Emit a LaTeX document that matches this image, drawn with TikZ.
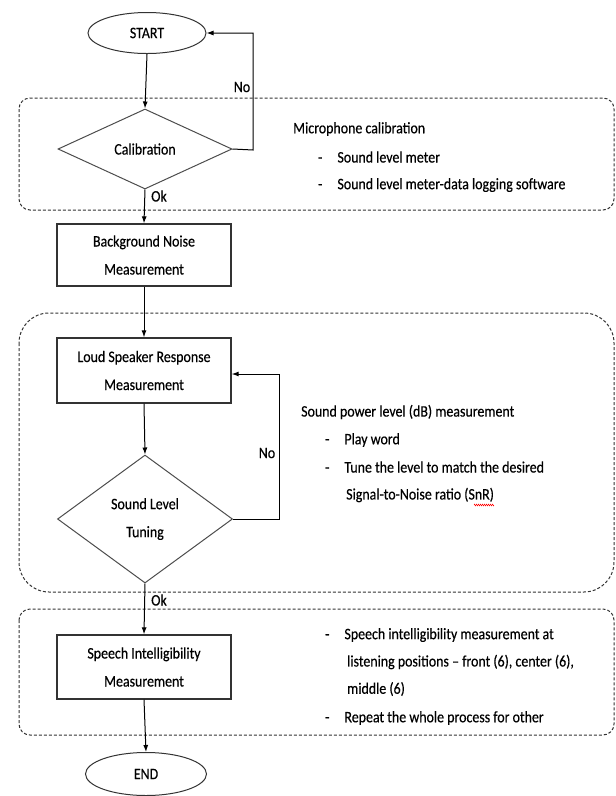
\documentclass[tikz,border=0pt]{standalone}
\usepackage{fontspec}
\setmainfont{Carlito}[FakeStretch=0.87,FakeBold=0.4]
\usetikzlibrary{shapes.geometric,arrows.meta,decorations.pathmorphing}
\begin{document}
\begin{tikzpicture}[x=1pt,y=-1pt,
  every node/.style={font=\fontsize{16}{28}\selectfont, text=black},
  flowbox/.style={draw=black!80, line width=1.3pt, minimum width=174pt, inner sep=0pt, align=center},
  decision/.style={draw=black!70, line width=1pt, diamond, inner sep=0pt, align=center},
  terminal/.style={draw=black!80, line width=1pt, ellipse, minimum width=118pt, minimum height=41pt, inner sep=0pt},
  group/.style={draw=black!80, line width=1pt, dash pattern=on 3pt off 2pt},
  link/.style={draw=black, line width=1pt, -{Latex[length=7pt,width=5pt]}},
  note/.style={anchor=west, align=left, inner sep=0pt}
]
\useasboundingbox (0,0) rectangle (616,796);
% dashed groups
\draw[group, rounded corners=11pt] (19,98) rectangle (614,210);
\draw[group, rounded corners=30pt] (19,313) rectangle (614,592);
\draw[group, rounded corners=11pt] (19,609) rectangle (614,735);

% nodes
\node[terminal] (start) at (147,33) {START};
\node[decision, minimum width=174pt, minimum height=80pt, aspect=2.175] (cal) at (145,149) {Calibration};
\node[flowbox, minimum height=62pt] (bn) at (144,255) {Background Noise\\Measurement};
\node[flowbox, minimum height=65pt] (ls) at (144,370.5) {Loud Speaker Response\\Measurement};
\node[decision, minimum width=175pt, minimum height=128pt, aspect=1.367] (tun) at (145,519) {Sound Level\\Tuning};
\node[flowbox, minimum height=64pt] (si) at (144,667) {Speech Intelligibility\\Measurement};
\node[terminal, minimum width=121pt, minimum height=43pt] (end) at (146,774) {END};

\coordinate (c1) at (253,150);
\coordinate (c2) at (279,519);

% connectors
\draw[link] (start.south) -- (cal.north);
\draw[link] (cal.east) -- (c1) |- (start.east);
\draw[link] (cal.south) -- (bn.north);
\draw[link] (bn.south) -- (ls.north);
\draw[link] (ls.south) -- (tun.north);
\draw[link] (tun.east) -- (c2) |- ([yshift=-3.5pt]ls.east);
\draw[link] (tun.south) -- (si.north);
\draw[link] (si.south) -- (end.north);

% labels
\node (no1) at (242,87) {No};
\node (ok1) at (159,196) {Ok};
\node (no2) at (267,453) {No};
\node (ok2) at (159,600) {Ok};

% notes
\node[note] (n1) at (293,129) {Microphone calibration};
\node[note] (n2) at (318,157) {-\hspace{15pt}Sound level meter};
\node[note] (n3) at (318,185) {-\hspace{15pt}Sound level meter-data logging software};

\node[note] (p1) at (301,412) {Sound power level (dB) measurement};
\node[note] (p2) at (325,440) {-\hspace{15pt}Play word};
\node[note] (p3) at (325,467) {-\hspace{15pt}Tune the level to match the desired};
\node[note] (p4) at (346,495) {Signal-to-Noise ratio (SnR)};
\draw[red, line width=0.5pt, decorate, decoration={zigzag, amplitude=0.8pt, segment length=2pt}] (474,505) -- (494,505);

\node[note] (s1) at (325,635) {-\hspace{15pt}Speech intelligibility measurement at};
\node[note] (s2) at (347,662) {listening positions -- front (6), center (6),};
\node[note] (s3) at (347,689) {middle (6)};
\node[note] (s4) at (325,718) {-\hspace{15pt}Repeat the whole process for other};
\end{tikzpicture}
\end{document}
